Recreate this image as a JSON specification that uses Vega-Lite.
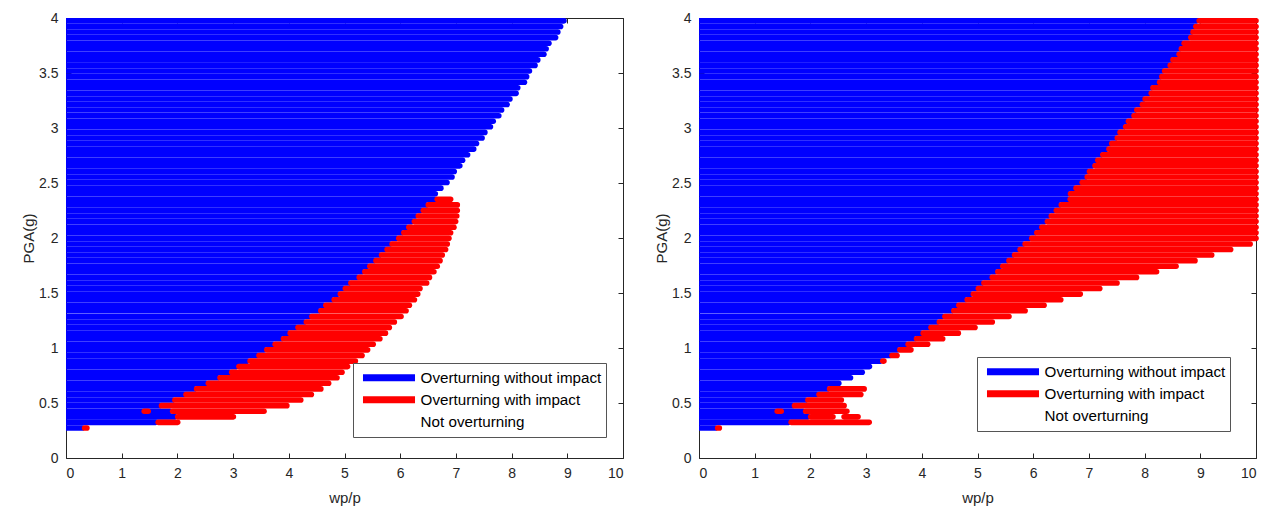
{
 "$schema": "https://vega.github.io/schema/vega-lite/v6.json",
 "background": "white",
 "padding": {"left": 21, "top": 11, "right": 5, "bottom": 5},
 "spacing": 76,
 "bounds": "flush",
 "config": {
  "view": {"stroke": null},
  "font": "Liberation Sans",
  "axis": {"domainColor": "#262626", "tickColor": "#262626", "labelColor": "#262626", "titleColor": "#262626", "labelFont": "Liberation Sans", "titleFont": "Liberation Sans", "labelFontSize": 14, "titleFontSize": 15, "titleFontWeight": "normal", "grid": false, "tickSize": -5, "labelPadding": 13, "domainWidth": 1, "tickWidth": 1},
  "axisX": {"titlePadding": 10},
  "axisY": {"titlePadding": 2},
  "legend": {"orient": "none", "title": null, "symbolType": "M-3.54,0L3.54,0", "symbolSize": 216, "symbolStrokeWidth": 7, "symbolOffset": 21, "labelOffset": 20.6, "labelFont": "Liberation Sans", "labelFontSize": 15.2, "labelColor": "#000000", "padding": 4, "strokeColor": "#555555", "fillColor": "#ffffff", "rowPadding": 0, "clipHeight": 21.3, "labelLimit": 400}
 },
 "resolve": {"scale": {"color": "independent"}, "legend": {"color": "independent"}},
 "datasets": {
  "blue": [{"p":0.273,"b":0.29},{"p":0.324,"b":1.61},{"p":0.374,"b":1.96},{"p":0.425,"b":1.87},{"p":0.476,"b":1.67},{"p":0.527,"b":1.91},{"p":0.577,"b":2.11},{"p":0.628,"b":2.30},{"p":0.679,"b":2.51},{"p":0.729,"b":2.72},{"p":0.780,"b":2.93},{"p":0.831,"b":3.06},{"p":0.881,"b":3.26},{"p":0.932,"b":3.42},{"p":0.983,"b":3.56},{"p":1.034,"b":3.71},{"p":1.084,"b":3.86},{"p":1.135,"b":3.98},{"p":1.186,"b":4.12},{"p":1.236,"b":4.27},{"p":1.287,"b":4.37},{"p":1.338,"b":4.53},{"p":1.388,"b":4.62},{"p":1.439,"b":4.77},{"p":1.490,"b":4.88},{"p":1.541,"b":4.97},{"p":1.591,"b":5.07},{"p":1.642,"b":5.22},{"p":1.693,"b":5.32},{"p":1.743,"b":5.41},{"p":1.794,"b":5.52},{"p":1.845,"b":5.62},{"p":1.895,"b":5.72},{"p":1.946,"b":5.81},{"p":1.997,"b":5.93},{"p":2.048,"b":6.02},{"p":2.098,"b":6.11},{"p":2.149,"b":6.21},{"p":2.200,"b":6.28},{"p":2.250,"b":6.37},{"p":2.301,"b":6.46},{"p":2.352,"b":6.62},{"p":2.402,"b":6.63},{"p":2.453,"b":6.73},{"p":2.504,"b":6.84},{"p":2.555,"b":6.93},{"p":2.605,"b":6.97},{"p":2.656,"b":7.07},{"p":2.707,"b":7.12},{"p":2.757,"b":7.21},{"p":2.808,"b":7.32},{"p":2.859,"b":7.37},{"p":2.909,"b":7.47},{"p":2.960,"b":7.52},{"p":3.011,"b":7.62},{"p":3.062,"b":7.67},{"p":3.112,"b":7.77},{"p":3.163,"b":7.82},{"p":3.214,"b":7.92},{"p":3.264,"b":7.97},{"p":3.315,"b":8.08},{"p":3.366,"b":8.11},{"p":3.416,"b":8.23},{"p":3.467,"b":8.27},{"p":3.518,"b":8.32},{"p":3.569,"b":8.42},{"p":3.619,"b":8.47},{"p":3.670,"b":8.58},{"p":3.721,"b":8.62},{"p":3.771,"b":8.67},{"p":3.822,"b":8.79},{"p":3.873,"b":8.83},{"p":3.923,"b":8.88},{"p":3.974,"b":8.94}],
  "red": [
   {"g":"L","p":0.273,"s":0.335,"e":0.375},{"g":"L","p":0.324,"s":1.655,"e":2.005},{"g":"L","p":0.374,"s":2.005,"e":3.005},{"g":"L","p":0.425,"s":1.405,"e":1.475},{"g":"L","p":0.425,"s":1.915,"e":3.555},{"g":"L","p":0.476,"s":1.715,"e":3.965},{"g":"L","p":0.527,"s":1.955,"e":4.215},{"g":"L","p":0.577,"s":2.155,"e":4.405},{"g":"L","p":0.628,"s":2.345,"e":4.575},{"g":"L","p":0.679,"s":2.555,"e":4.715},{"g":"L","p":0.729,"s":2.765,"e":4.865},{"g":"L","p":0.780,"s":2.975,"e":4.955},{"g":"L","p":0.831,"s":3.105,"e":5.055},{"g":"L","p":0.881,"s":3.305,"e":5.195},{"g":"L","p":0.932,"s":3.465,"e":5.315},{"g":"L","p":0.983,"s":3.605,"e":5.415},{"g":"L","p":1.034,"s":3.755,"e":5.515},{"g":"L","p":1.084,"s":3.905,"e":5.635},{"g":"L","p":1.135,"s":4.025,"e":5.735},{"g":"L","p":1.186,"s":4.165,"e":5.805},{"g":"L","p":1.236,"s":4.315,"e":5.895},{"g":"L","p":1.287,"s":4.415,"e":6.015},{"g":"L","p":1.338,"s":4.575,"e":6.105},{"g":"L","p":1.388,"s":4.665,"e":6.165},{"g":"L","p":1.439,"s":4.815,"e":6.255},{"g":"L","p":1.490,"s":4.925,"e":6.315},{"g":"L","p":1.541,"s":5.015,"e":6.355},{"g":"L","p":1.591,"s":5.115,"e":6.475},{"g":"L","p":1.642,"s":5.265,"e":6.525},{"g":"L","p":1.693,"s":5.365,"e":6.605},{"g":"L","p":1.743,"s":5.455,"e":6.665},{"g":"L","p":1.794,"s":5.565,"e":6.715},{"g":"L","p":1.845,"s":5.665,"e":6.755},{"g":"L","p":1.895,"s":5.765,"e":6.815},{"g":"L","p":1.946,"s":5.855,"e":6.845},{"g":"L","p":1.997,"s":5.975,"e":6.875},{"g":"L","p":2.048,"s":6.065,"e":6.905},{"g":"L","p":2.098,"s":6.155,"e":6.965},{"g":"L","p":2.149,"s":6.255,"e":6.995},{"g":"L","p":2.200,"s":6.325,"e":7.015},{"g":"L","p":2.250,"s":6.415,"e":7.025},{"g":"L","p":2.301,"s":6.505,"e":7.025},{"g":"L","p":2.352,"s":6.665,"e":6.905},
   {"g":"R","p":0.273,"s":0.335,"e":0.365},{"g":"R","p":0.324,"s":1.655,"e":3.055},{"g":"R","p":0.374,"s":2.005,"e":2.405},{"g":"R","p":0.374,"s":2.605,"e":2.855},{"g":"R","p":0.425,"s":1.405,"e":1.475},{"g":"R","p":0.425,"s":1.915,"e":2.655},{"g":"R","p":0.476,"s":1.715,"e":2.605},{"g":"R","p":0.527,"s":1.955,"e":2.555},{"g":"R","p":0.577,"s":2.155,"e":2.905},{"g":"R","p":0.628,"s":2.345,"e":2.965},{"g":"R","p":0.881,"s":3.30,"e":3.32},{"g":"R","p":0.932,"s":3.465,"e":3.555},{"g":"R","p":0.983,"s":3.605,"e":3.805},{"g":"R","p":1.034,"s":3.755,"e":4.105},{"g":"R","p":1.084,"s":3.905,"e":4.375},{"g":"R","p":1.135,"s":4.025,"e":4.655},{"g":"R","p":1.186,"s":4.165,"e":4.955},{"g":"R","p":1.236,"s":4.315,"e":5.265},{"g":"R","p":1.287,"s":4.415,"e":5.565},{"g":"R","p":1.338,"s":4.575,"e":5.855},{"g":"R","p":1.388,"s":4.665,"e":6.195},{"g":"R","p":1.439,"s":4.815,"e":6.495},{"g":"R","p":1.490,"s":4.925,"e":6.845},{"g":"R","p":1.541,"s":5.015,"e":7.195},{"g":"R","p":1.591,"s":5.115,"e":7.505},{"g":"R","p":1.642,"s":5.265,"e":7.855},{"g":"R","p":1.693,"s":5.365,"e":8.215},{"g":"R","p":1.743,"s":5.455,"e":8.565},{"g":"R","p":1.794,"s":5.565,"e":8.905},{"g":"R","p":1.845,"s":5.665,"e":9.205},{"g":"R","p":1.895,"s":5.765,"e":9.545},{"g":"R","p":1.946,"s":5.855,"e":9.895},{"g":"R","p":1.997,"s":5.975,"e":10},{"g":"R","p":2.048,"s":6.065,"e":10},{"g":"R","p":2.098,"s":6.155,"e":10},{"g":"R","p":2.149,"s":6.255,"e":10},{"g":"R","p":2.200,"s":6.325,"e":10},{"g":"R","p":2.250,"s":6.415,"e":10},{"g":"R","p":2.301,"s":6.505,"e":10},{"g":"R","p":2.352,"s":6.665,"e":10},{"g":"R","p":2.402,"s":6.67,"e":10},{"g":"R","p":2.453,"s":6.77,"e":10},{"g":"R","p":2.504,"s":6.88,"e":10},{"g":"R","p":2.555,"s":6.97,"e":10},{"g":"R","p":2.605,"s":7.01,"e":10},{"g":"R","p":2.656,"s":7.11,"e":10},{"g":"R","p":2.707,"s":7.16,"e":10},{"g":"R","p":2.757,"s":7.25,"e":10},{"g":"R","p":2.808,"s":7.36,"e":10},{"g":"R","p":2.859,"s":7.41,"e":10},{"g":"R","p":2.909,"s":7.51,"e":10},{"g":"R","p":2.960,"s":7.56,"e":10},{"g":"R","p":3.011,"s":7.66,"e":10},{"g":"R","p":3.062,"s":7.71,"e":10},{"g":"R","p":3.112,"s":7.81,"e":10},{"g":"R","p":3.163,"s":7.86,"e":10},{"g":"R","p":3.214,"s":7.96,"e":10},{"g":"R","p":3.264,"s":8.01,"e":10},{"g":"R","p":3.315,"s":8.12,"e":10},{"g":"R","p":3.366,"s":8.15,"e":10},{"g":"R","p":3.416,"s":8.27,"e":10},{"g":"R","p":3.467,"s":8.31,"e":10},{"g":"R","p":3.518,"s":8.36,"e":10},{"g":"R","p":3.569,"s":8.46,"e":10},{"g":"R","p":3.619,"s":8.51,"e":10},{"g":"R","p":3.670,"s":8.62,"e":10},{"g":"R","p":3.721,"s":8.66,"e":10},{"g":"R","p":3.771,"s":8.71,"e":10},{"g":"R","p":3.822,"s":8.83,"e":10},{"g":"R","p":3.873,"s":8.87,"e":10},{"g":"R","p":3.923,"s":8.92,"e":10},{"g":"R","p":3.974,"s":8.98,"e":10}
  ]
 },
 "hconcat": [
  {
   "width": 557, "height": 440,
   "resolve": {"axis": {"x": "independent", "y": "independent"}},
   "layer": [
    {
     "data": {"name": "blue"},
     "mark": {"type": "rule", "strokeWidth": 5.6, "strokeCap": "round", "clip": true},
     "encoding": {
      "y": {"field": "p", "type": "quantitative", "scale": {"domain": [0, 4], "nice": false, "zero": false}, "axis": {"orient": "left", "title": "PGA(g)", "values": [0, 0.5, 1, 1.5, 2, 2.5, 3, 3.5, 4], "format": "~g"}},
      "x": {"field": "b", "type": "quantitative", "scale": {"domain": [0, 10], "nice": false}, "axis": {"orient": "bottom", "title": "wp/p", "values": [0, 1, 2, 3, 4, 5, 6, 7, 8, 9, 10], "format": "d"}},
      "x2": {"datum": 0},
      "color": {"datum": "Overturning without impact", "type": "nominal", "scale": {"domain": ["Overturning without impact", "Overturning with impact", "Not overturning"], "range": ["#0000ff", "#ff0000", "#ffffff"]}, "legend": {"legendX": 287, "legendY": 345}}
     }
    },
    {
     "data": {"name": "red"},
     "transform": [{"filter": "datum.g == 'L'"}],
     "mark": {"type": "rule", "strokeWidth": 5.6, "strokeCap": "round"},
     "encoding": {
      "y": {"field": "p", "type": "quantitative", "axis": {"orient": "right", "title": null, "labels": false, "values": [0, 0.5, 1, 1.5, 2, 2.5, 3, 3.5, 4]}},
      "x": {"field": "s", "type": "quantitative", "axis": {"orient": "top", "title": null, "labels": false, "values": [0, 1, 2, 3, 4, 5, 6, 7, 8, 9, 10]}},
      "x2": {"field": "e"},
      "color": {"datum": "Overturning with impact", "type": "nominal"}
     }
    }
   ]
  },
  {
   "width": 557, "height": 440,
   "resolve": {"axis": {"x": "independent", "y": "independent"}},
   "layer": [
    {
     "data": {"name": "blue"},
     "mark": {"type": "rule", "strokeWidth": 5.6, "strokeCap": "round", "clip": true},
     "encoding": {
      "y": {"field": "p", "type": "quantitative", "scale": {"domain": [0, 4], "nice": false, "zero": false}, "axis": {"orient": "left", "title": "PGA(g)", "values": [0, 0.5, 1, 1.5, 2, 2.5, 3, 3.5, 4], "format": "~g"}},
      "x": {"field": "b", "type": "quantitative", "scale": {"domain": [0, 10], "nice": false}, "axis": {"orient": "bottom", "title": "wp/p", "values": [0, 1, 2, 3, 4, 5, 6, 7, 8, 9, 10], "format": "d"}},
      "x2": {"datum": 0},
      "color": {"datum": "Overturning without impact", "type": "nominal", "scale": {"domain": ["Overturning without impact", "Overturning with impact", "Not overturning"], "range": ["#0000ff", "#ff0000", "#ffffff"]}, "legend": {"legendX": 278, "legendY": 339}}
     }
    },
    {
     "data": {"name": "red"},
     "transform": [{"filter": "datum.g == 'R'"}],
     "mark": {"type": "rule", "strokeWidth": 5.6, "strokeCap": "round"},
     "encoding": {
      "y": {"field": "p", "type": "quantitative", "axis": {"orient": "right", "title": null, "labels": false, "values": [0, 0.5, 1, 1.5, 2, 2.5, 3, 3.5, 4]}},
      "x": {"field": "s", "type": "quantitative", "axis": {"orient": "top", "title": null, "labels": false, "values": [0, 1, 2, 3, 4, 5, 6, 7, 8, 9, 10]}},
      "x2": {"field": "e"},
      "color": {"datum": "Overturning with impact", "type": "nominal"}
     }
    }
   ]
  }
 ]
}
